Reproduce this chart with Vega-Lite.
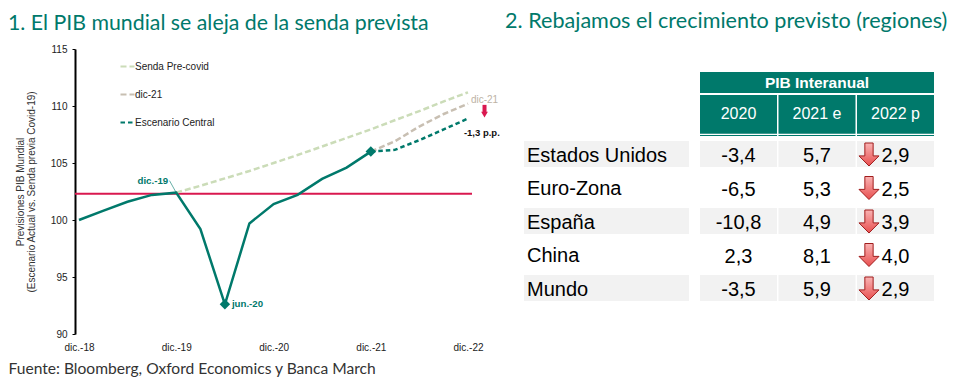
{
"$schema":"https://vega.github.io/schema/vega-lite/v6.json",
"background":"white",
"padding":{"left":8,"top":11,"right":0,"bottom":0},
"config":{"view":{"stroke":null},"font":"Liberation Sans"},
"datasets":{
"series":[
{"fecha":"2018-12-01","serie":"Histórico","valor":100.0},
{"fecha":"2019-03-01","serie":"Histórico","valor":100.8},
{"fecha":"2019-06-01","serie":"Histórico","valor":101.6},
{"fecha":"2019-09-01","serie":"Histórico","valor":102.2},
{"fecha":"2019-12-01","serie":"Histórico","valor":102.4},
{"fecha":"2020-03-01","serie":"Histórico","valor":99.2},
{"fecha":"2020-06-01","serie":"Histórico","valor":92.6},
{"fecha":"2020-09-01","serie":"Histórico","valor":99.7},
{"fecha":"2020-12-01","serie":"Histórico","valor":101.4},
{"fecha":"2021-03-01","serie":"Histórico","valor":102.2},
{"fecha":"2021-06-01","serie":"Histórico","valor":103.6},
{"fecha":"2021-09-01","serie":"Histórico","valor":104.6},
{"fecha":"2021-12-01","serie":"Histórico","valor":106.0},
{"fecha":"2019-12-01","serie":"Senda Pre-covid","valor":102.4},
{"fecha":"2020-03-01","serie":"Senda Pre-covid","valor":103.0},
{"fecha":"2020-06-01","serie":"Senda Pre-covid","valor":103.65},
{"fecha":"2020-09-01","serie":"Senda Pre-covid","valor":104.3},
{"fecha":"2020-12-01","serie":"Senda Pre-covid","valor":105.0},
{"fecha":"2021-03-01","serie":"Senda Pre-covid","valor":105.7},
{"fecha":"2021-06-01","serie":"Senda Pre-covid","valor":106.45},
{"fecha":"2021-09-01","serie":"Senda Pre-covid","valor":107.2},
{"fecha":"2021-12-01","serie":"Senda Pre-covid","valor":107.95},
{"fecha":"2022-03-01","serie":"Senda Pre-covid","valor":108.75},
{"fecha":"2022-06-01","serie":"Senda Pre-covid","valor":109.55},
{"fecha":"2022-09-01","serie":"Senda Pre-covid","valor":110.4},
{"fecha":"2022-12-01","serie":"Senda Pre-covid","valor":111.2},
{"fecha":"2021-12-01","serie":"dic-21","valor":106.0},
{"fecha":"2022-03-01","serie":"dic-21","valor":106.9},
{"fecha":"2022-06-01","serie":"dic-21","valor":108.2},
{"fecha":"2022-09-01","serie":"dic-21","valor":109.3},
{"fecha":"2022-12-01","serie":"dic-21","valor":110.2},
{"fecha":"2021-12-01","serie":"Escenario Central","valor":106.0},
{"fecha":"2022-03-01","serie":"Escenario Central","valor":106.15},
{"fecha":"2022-06-01","serie":"Escenario Central","valor":107.0},
{"fecha":"2022-09-01","serie":"Escenario Central","valor":107.95},
{"fecha":"2022-12-01","serie":"Escenario Central","valor":108.9}
],
"tabla":[
{"region":"Estados Unidos","col":"2020","valor":"-3,4"},{"region":"Estados Unidos","col":"2021 e","valor":"5,7"},{"region":"Estados Unidos","col":"2022 p","valor":"2,9"},
{"region":"Euro-Zona","col":"2020","valor":"-6,5"},{"region":"Euro-Zona","col":"2021 e","valor":"5,3"},{"region":"Euro-Zona","col":"2022 p","valor":"2,5"},
{"region":"España","col":"2020","valor":"-10,8"},{"region":"España","col":"2021 e","valor":"4,9"},{"region":"España","col":"2022 p","valor":"3,9"},
{"region":"China","col":"2020","valor":"2,3"},{"region":"China","col":"2021 e","valor":"8,1"},{"region":"China","col":"2022 p","valor":"4,0"},
{"region":"Mundo","col":"2020","valor":"-3,5"},{"region":"Mundo","col":"2021 e","valor":"5,9"},{"region":"Mundo","col":"2022 p","valor":"2,9"}
],
"regiones":[{"region":"Estados Unidos"},{"region":"Euro-Zona"},{"region":"España"},{"region":"China"},{"region":"Mundo"}],
"columnas":[{"col":"2020"},{"col":"2021 e"},{"col":"2022 p"}]
},
"bounds":"flush",
"spacing":52,
"hconcat":[
{
"width":397,"height":285,
"title":{"text":"1. El PIB mundial se aleja de la senda prevista","anchor":"start","frame":"group","dx":-67,"offset":10,"font":"Lato","fontSize":21.3,"fontWeight":"normal","color":"#00796b"},
"encoding":{
"x":{"field":"fecha","type":"temporal","scale":{"type":"utc","domain":["2018-11-16","2022-12-16"],"nice":false},
"axis":{"title":"Fuente: Bloomberg, Oxford Economics y Banca March","titleAnchor":"start","titleAlign":"left","titleBaseline":"alphabetic","titleX":-67,"titleY":39,"titleFont":"Lato","titleFontSize":15.6,"titleFontWeight":"normal","titleColor":"#333333",
"values":["2018-12-01","2019-12-01","2020-12-01","2021-12-01","2022-12-01"],"labelExpr":"'dic.-' + utcFormat(datum.value,'%y')","domain":false,"ticks":false,"grid":false,"labelFontSize":10,"labelColor":"#222222","labelPadding":8,"labelFlush":false,"labelOverlap":false}},
"y":{"field":"valor","type":"quantitative","scale":{"domain":[90,115],"nice":false},
"axis":{"title":["Previsiones PIB Mundial","(Escenario Actual vs. Senda previa Covid-19)"],"titleFontSize":10,"titleFontWeight":"normal","titleColor":"#333333","titlePadding":14,"titleLineHeight":11,"values":[90,95,100,105,110,115],"domainColor":"#000000","domainWidth":2,"tickColor":"#000000","tickSize":3,"tickWidth":1,"grid":false,"labelFontSize":10,"labelColor":"#222222","labelPadding":5}}
},
"layer":[
{"data":{"values":[{"a":"2018-11-16","b":"2022-12-16","y":102.3}]},
 "mark":{"type":"rule","color":"#d9184f","strokeWidth":2},
 "encoding":{"x":{"field":"a","type":"temporal"},"x2":{"field":"b"},"y":{"field":"y","type":"quantitative"}}},
{"data":{"values":[{"f":"2019-11-16"},{"f":"2020-11-16"},{"f":"2021-11-16"},{"f":"2022-11-16"}]},
 "mark":{"type":"rule","color":"#d9184f","strokeWidth":1},
 "encoding":{"x":{"field":"f","type":"temporal"},"y":{"datum":102.3},"y2":{"datum":102.0}}},
{"data":{"name":"series"},"transform":[{"filter":"datum.serie !== 'Histórico'"}],
 "mark":{"type":"line","strokeWidth":2.5},
 "encoding":{
 "color":{"field":"serie","type":"nominal","scale":{"domain":["Senda Pre-covid","dic-21","Escenario Central"],"range":["#cbdcb8","#c8bfb2","#00796b"]},
  "legend":{"title":null,"orient":"none","legendX":44,"legendY":9,"symbolType":"stroke","symbolSize":196,"symbolStrokeWidth":2.2,"labelFontSize":10,"labelColor":"#222222","labelOffset":-1,"rowPadding":14,"labelLimit":200}},
 "strokeDash":{"field":"serie","type":"nominal","scale":{"domain":["Senda Pre-covid","dic-21","Escenario Central"],"range":[[6,3],[6,3],[4.5,3]]},
  "legend":{"title":null,"orient":"none","legendX":44,"legendY":9,"symbolType":"stroke","symbolSize":196,"symbolStrokeWidth":2.2,"labelFontSize":10,"labelColor":"#222222","labelOffset":-1,"rowPadding":14,"labelLimit":200}}}},
{"data":{"name":"series"},"transform":[{"filter":"datum.serie === 'Histórico'"}],
 "mark":{"type":"line","color":"#00796b","strokeWidth":2.5}},
{"data":{"values":[{"fecha":"2019-11-06","valor":103.45},{"fecha":"2019-12-01","valor":102.4}]},
 "mark":{"type":"line","color":"#00796b","strokeWidth":0.6}},
{"data":{"values":[{"fecha":"2020-06-01","valor":92.6},{"fecha":"2021-12-01","valor":106.0}]},
 "mark":{"type":"point","shape":"diamond","filled":true,"color":"#00796b","opacity":1},
 "encoding":{"size":{"value":110}}},
{"data":{"values":[{"fecha":"2019-11-01","valor":103.4,"t":"dic.-19"}]},
 "mark":{"type":"text","align":"right","baseline":"middle","fontSize":9.7,"fontWeight":"bold","color":"#00796b"},
 "encoding":{"text":{"field":"t"}}},
{"data":{"values":[{"fecha":"2020-06-01","valor":92.6,"t":"jun.-20"}]},
 "mark":{"type":"text","align":"left","baseline":"middle","dx":7,"fontSize":9.7,"fontWeight":"bold","color":"#00796b"},
 "encoding":{"text":{"field":"t"}}},
{"data":{"values":[{"fecha":"2023-02-01","valor":110.5,"t":"dic-21"}]},
 "mark":{"type":"text","align":"center","baseline":"middle","fontSize":10,"color":"#bdb3a5"},
 "encoding":{"text":{"field":"t"}}},
{"data":{"values":[{"fecha":"2023-01-22","valor":107.6,"t":"-1,3 p.p."}]},
 "mark":{"type":"text","align":"center","baseline":"middle","fontSize":9.5,"fontWeight":"bold","color":"#111111"},
 "encoding":{"text":{"field":"t"}}},
{"data":{"values":[{"fecha":"2023-02-01","a":110.1,"b":109.4}]},
 "mark":{"type":"rule","color":"#d9184f","strokeWidth":4},
 "encoding":{"y":{"field":"a","type":"quantitative"},"y2":{"field":"b"}}},
{"data":{"values":[{"fecha":"2023-02-01","valor":109.25}]},
 "mark":{"type":"point","shape":"triangle-down","filled":true,"color":"#d9184f","opacity":1},
 "encoding":{"size":{"value":45}}}
]
},
{
"bounds":"flush",
"spacing":11,
"hconcat":[
{
"width":165,"height":252,
"title":{"text":"2. Rebajamos el crecimiento previsto (regiones)","anchor":"start","frame":"group","dx":-19,"offset":16,"font":"Lato","fontSize":21.6,"fontWeight":"normal","color":"#00796b"},
"data":{"name":"regiones"},
"encoding":{"y":{"field":"region","type":"nominal","scale":{"type":"band","domain":["_a","_b","Estados Unidos","Euro-Zona","España","China","Mundo"],"paddingInner":0.224,"paddingOuter":0.373,"align":1},"axis":null}},
"layer":[
{"transform":[{"filter":"datum.region==='Estados Unidos'||datum.region==='España'||datum.region==='Mundo'"}],"mark":{"type":"rect","color":"#f2f2f2"}},
{"mark":{"type":"text","align":"left","baseline":"middle","dx":3,"dy":2,"fontSize":20,"color":"#000000"},
 "encoding":{"x":{"datum":0,"scale":{"domain":[0,1]},"axis":null},"text":{"field":"region"}}}
]
},
{
"bounds":"flush",
"spacing":2,
"vconcat":[
{"width":234,"height":21,"data":{"values":[]},"mark":{"type":"rect"},"encoding":{}},
{"width":234,"height":21,"data":{"values":[{"t":"PIB Interanual"}]},
 "layer":[
 {"mark":{"type":"rect","color":"#00796b"},"encoding":{}},
 {"mark":{"type":"text","color":"white","fontSize":15.5,"fontWeight":"bold","baseline":"middle"},"encoding":{"text":{"field":"t"}}}
 ]},
{"width":234,"height":41,"data":{"name":"columnas"},
 "encoding":{"x":{"field":"col","type":"nominal","scale":{"type":"band","paddingInner":0.019,"paddingOuter":0,"domain":["2020","2021 e","2022 p"]},"axis":null}},
 "layer":[
 {"mark":{"type":"rect","color":"#00796b"}},
 {"mark":{"type":"text","color":"white","fontSize":16,"baseline":"middle","dy":-2},"encoding":{"text":{"field":"col"}}},
 {"data":{"values":[{"y":1.6}]},"mark":{"type":"rule","color":"white","strokeWidth":1.2},"encoding":{"x":{},"y":{"field":"y","type":"quantitative","scale":{"domain":[0,41]},"axis":null}}}
 ]},
{"width":234,"height":163,"data":{"name":"tabla"},
 "encoding":{
 "x":{"field":"col","type":"nominal","scale":{"type":"band","paddingInner":0.019,"paddingOuter":0,"domain":["2020","2021 e","2022 p"]},"axis":null},
 "y":{"field":"region","type":"nominal","scale":{"type":"band","domain":["Estados Unidos","Euro-Zona","España","China","Mundo"],"paddingInner":0.224,"paddingOuter":0.045,"align":1},"axis":null}},
 "layer":[
 {"transform":[{"filter":"datum.region==='Estados Unidos'||datum.region==='España'||datum.region==='Mundo'"}],"mark":{"type":"rect","color":"#f2f2f2"}},
 {"mark":{"type":"text","baseline":"middle","dy":2,"fontSize":20,"color":"#000000"},"encoding":{"text":{"field":"valor"}}},
 {"transform":[{"filter":"datum.col==='2022 p'"}],
  "mark":{"type":"point","xOffset":-26.5,"yOffset":0.5,"shape":"M-0.36 -1 L0.36 -1 L0.36 0.12 L0.87 0.12 L0 1 L-0.87 0.12 L-0.36 0.12 Z","filled":true,"opacity":1,"strokeWidth":1,"stroke":"#a01c1c","fill":{"x1":0,"y1":0,"x2":0,"y2":1,"gradient":"linear","stops":[{"offset":0,"color":"#f9b3b3"},{"offset":1,"color":"#e84f4f"}]}},
  "encoding":{"size":{"value":529}}}
 ]}
]
}
]
}
]
}
